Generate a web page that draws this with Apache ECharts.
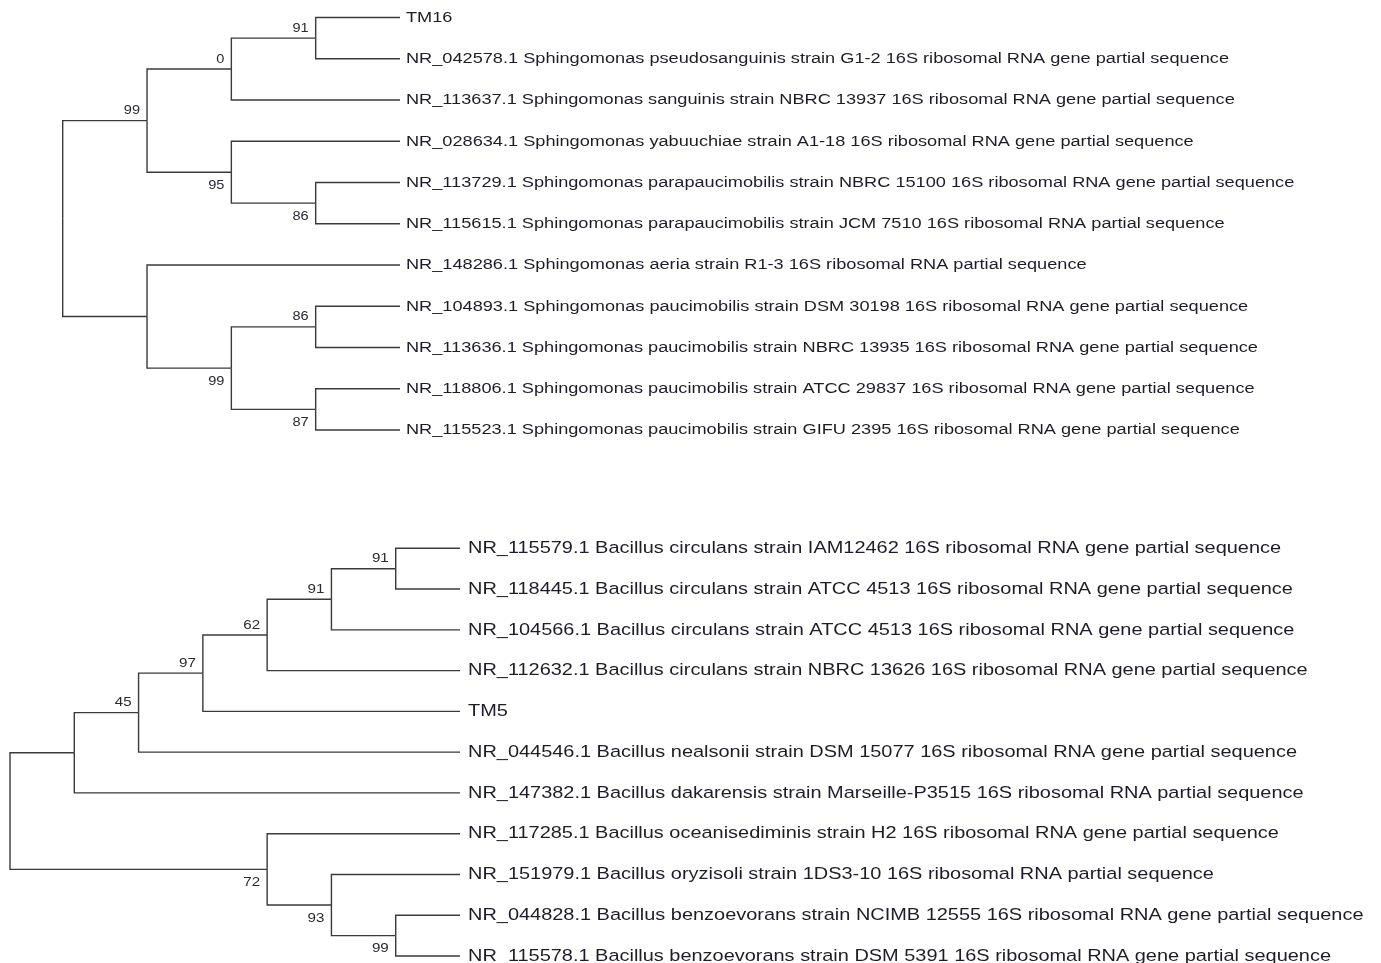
<!DOCTYPE html>
<html><head><meta charset="utf-8">
<script src="https://cdn.jsdelivr.net/npm/echarts@6/dist/echarts.min.js"></script>
<style>html,body{margin:0;padding:0;background:#fff;overflow:hidden}#c{width:1381px;height:963px}</style>
</head><body><div id="c"></div>
<script>
// ---------- Data: Sphingomonas tree (top) ----------
const topLeaves = [
  'TM16',
  'NR_042578.1 Sphingomonas pseudosanguinis strain G1-2 16S ribosomal RNA gene partial sequence',
  'NR_113637.1 Sphingomonas sanguinis strain NBRC 13937 16S ribosomal RNA gene partial sequence',
  'NR_028634.1 Sphingomonas yabuuchiae strain A1-18 16S ribosomal RNA gene partial sequence',
  'NR_113729.1 Sphingomonas parapaucimobilis strain NBRC 15100 16S ribosomal RNA gene partial sequence',
  'NR_115615.1 Sphingomonas parapaucimobilis strain JCM 7510 16S ribosomal RNA partial sequence',
  'NR_148286.1 Sphingomonas aeria strain R1-3 16S ribosomal RNA partial sequence',
  'NR_104893.1 Sphingomonas paucimobilis strain DSM 30198 16S ribosomal RNA gene partial sequence',
  'NR_113636.1 Sphingomonas paucimobilis strain NBRC 13935 16S ribosomal RNA gene partial sequence',
  'NR_118806.1 Sphingomonas paucimobilis strain ATCC 29837 16S ribosomal RNA gene partial sequence',
  'NR_115523.1 Sphingomonas paucimobilis strain GIFU 2395 16S ribosomal RNA gene partial sequence'
];
// internal nodes (children refer to leaves L# or earlier nodes N#), last one is the root
const topNodes = [
  ['L0', 'L1'], ['N0', 'L2'], ['L4', 'L5'], ['L3', 'N2'], ['N1', 'N3'],
  ['L7', 'L8'], ['L9', 'L10'], ['N5', 'N6'], ['L6', 'N7'], ['N4', 'N8']
];
const topSupport = [91, 0, 86, 95, 99, 86, 87, 99, null, null];

// ---------- Data: Bacillus tree (bottom) ----------
const bottomLeaves = [
  'NR_115579.1 Bacillus circulans strain IAM12462 16S ribosomal RNA gene partial sequence',
  'NR_118445.1 Bacillus circulans strain ATCC 4513 16S ribosomal RNA gene partial sequence',
  'NR_104566.1 Bacillus circulans strain ATCC 4513 16S ribosomal RNA gene partial sequence',
  'NR_112632.1 Bacillus circulans strain NBRC 13626 16S ribosomal RNA gene partial sequence',
  'TM5',
  'NR_044546.1 Bacillus nealsonii strain DSM 15077 16S ribosomal RNA gene partial sequence',
  'NR_147382.1 Bacillus dakarensis strain Marseille-P3515 16S ribosomal RNA partial sequence',
  'NR_117285.1 Bacillus oceanisediminis strain H2 16S ribosomal RNA gene partial sequence',
  'NR_151979.1 Bacillus oryzisoli strain 1DS3-10 16S ribosomal RNA partial sequence',
  'NR_044828.1 Bacillus benzoevorans strain NCIMB 12555 16S ribosomal RNA gene partial sequence',
  'NR_115578.1 Bacillus benzoevorans strain DSM 5391 16S ribosomal RNA gene partial sequence'
];
const bottomNodes = [
  ['L0', 'L1'], ['N0', 'L2'], ['N1', 'L3'], ['N2', 'L4'], ['N3', 'L5'],
  ['N4', 'L6'], ['L9', 'L10'], ['L8', 'N6'], ['L7', 'N7'], ['N5', 'N8']
];
const bottomSupport = [91, 91, 62, 97, 45, null, 99, 93, 72, null];

// ---------- layout (topology only, tips aligned) ----------
function layout(leaves, nodes, support) {
  const pos = {};
  leaves.forEach((n, i) => { pos['L' + i] = { h: 0, y: i }; });
  const parentSide = {};
  nodes.forEach((ch, i) => {
    const a = pos[ch[0]], b = pos[ch[1]];
    pos['N' + i] = { h: Math.max(a.h, b.h) + 1, y: (a.y + b.y) / 2 };
    parentSide[ch[0]] = 'upper';
    parentSide[ch[1]] = 'lower';
  });
  const H = pos['N' + (nodes.length - 1)].h;
  const edges = [];
  nodes.forEach((ch, i) => {
    const p = pos['N' + i];
    ch.forEach(c => {
      const q = pos[c];
      edges.push([H - p.h, p.y, H - q.h, q.y]);
    });
  });
  const tips = leaves.map((n, i) => [H, i]);
  const sup = [], supText = [];
  nodes.forEach((ch, i) => {
    if (support[i] === null) return;
    const p = pos['N' + i];
    sup.push([H - p.h, p.y, parentSide['N' + i] === 'lower' ? 1 : 0]);
    supText.push(String(support[i]));
  });
  return { H, edges, tips, sup, supText, n: leaves.length };
}

const T = layout(topLeaves, topNodes, topSupport);
const B = layout(bottomLeaves, bottomNodes, bottomSupport);

const LINE = '#3a3a3a';
const TXT = '#1d1d2a';
const FONT = '"Liberation Sans", Arial, sans-serif';

function edgeSeries(idx, edges) {
  return {
    type: 'custom', xAxisIndex: idx, yAxisIndex: idx, silent: true, clip: false,
    data: edges,
    renderItem: (params, api) => {
      const a = api.coord([api.value(0), api.value(1)]);
      const b = api.coord([api.value(0), api.value(3)]);
      const c = api.coord([api.value(2), api.value(3)]);
      return { type: 'polyline', shape: { points: [a, b, c] },
        style: { stroke: LINE, lineWidth: 1.4, fill: null } };
    }
  };
}
function tipSeries(idx, tips, names, dx, size, sx) {
  return {
    type: 'custom', xAxisIndex: idx, yAxisIndex: idx, silent: true, clip: false,
    data: tips,
    renderItem: (params, api) => {
      const p = api.coord([api.value(0), api.value(1)]);
      return { type: 'text', x: p[0] + dx, y: p[1], scaleX: sx,
        style: { text: names[params.dataIndex], fill: TXT, font: size + 'px ' + FONT,
          align: 'left', verticalAlign: 'middle' } };
    }
  };
}
function supSeries(idx, sup, texts, size) {
  return {
    type: 'custom', xAxisIndex: idx, yAxisIndex: idx, silent: true, clip: false,
    data: sup,
    renderItem: (params, api) => {
      const p = api.coord([api.value(0), api.value(1)]);
      const below = api.value(2) === 1;
      return { type: 'text', x: p[0] - 7, y: p[1] + (below ? 13 : -10), scaleX: 1.12,
        style: { text: texts[params.dataIndex], fill: '#2a2a35', font: size + 'px ' + FONT,
          align: 'right', verticalAlign: 'middle' } };
    }
  };
}

const chart = echarts.init(document.getElementById('c'), null, { renderer: 'canvas' });
chart.setOption({
  animation: false,
  backgroundColor: '#ffffff',
  grid: [
    { left: 62.7, top: 17.5, width: 337.3, height: 412.5 },
    { left: 10, top: 548.3, width: 450, height: 407.7 }
  ],
  xAxis: [
    { gridIndex: 0, type: 'value', min: 0, max: T.H, show: false },
    { gridIndex: 1, type: 'value', min: 0, max: B.H, show: false }
  ],
  yAxis: [
    { gridIndex: 0, type: 'value', min: 0, max: T.n - 1, inverse: true, show: false },
    { gridIndex: 1, type: 'value', min: 0, max: B.n - 1, inverse: true, show: false }
  ],
  series: [
    edgeSeries(0, T.edges), tipSeries(0, T.tips, topLeaves, 6, 15.5, 1.172), supSeries(0, T.sup, T.supText, 13),
    edgeSeries(1, B.edges), tipSeries(1, B.tips, bottomLeaves, 8, 17.2, 1.16), supSeries(1, B.sup, B.supText, 13.5)
  ]
});
</script></body></html>
